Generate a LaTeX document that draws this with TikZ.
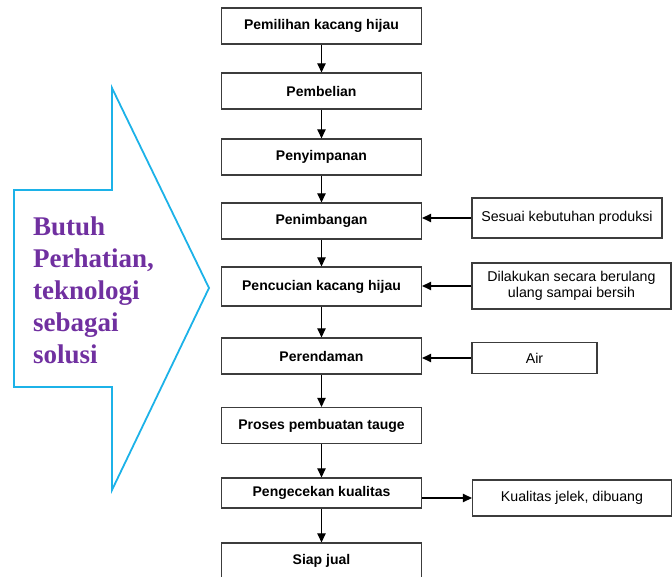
\documentclass[tikz,border=0pt]{standalone}
\usepackage{fontspec}
\setmainfont{Liberation Serif}
\setsansfont{Liberation Sans}
\usetikzlibrary{arrows.meta,positioning}
\definecolor{birumuda}{RGB}{28,178,232}
\definecolor{ungu}{RGB}{112,48,160}
\definecolor{garis}{RGB}{60,60,60}

\begin{document}
\begin{tikzpicture}[x=1pt,y=-1pt,
    langkah/.style={draw=garis,line width=1.3pt,minimum width=200pt,minimum height=36pt,inner sep=0pt,
      font=\sffamily\bfseries\fontsize{14}{16}\selectfont},
    catatan/.style={draw=garis,line width=1.3pt,inner sep=0pt,align=center,
      font=\sffamily\fontsize{14.2}{16}\selectfont},
    panah/.style={-{Triangle[length=9pt,width=8.5pt]},line width=1.1pt}]
    \useasboundingbox (0,0) rectangle (672,577);

    % Big arrow on the left
    \draw[birumuda,line width=1.8pt] (14,190) -- (112,190) -- (112,88) -- (209,288)
        -- (112,490) -- (112,387) -- (14,387) -- cycle;
    \node[ungu,anchor=north west,align=left,inner sep=0pt,
        font=\bfseries\fontsize{27}{32}\selectfont] (solusi) at (33,217)
        {Butuh\\Perhatian,\\teknologi\\sebagai\\solusi};

    % Process steps
    \node[langkah] (pilih) at (321.5,26) {Pemilihan kacang hijau};
    \node[langkah] (beli) at (321.5,91) {Pembelian};
    \node[langkah] (simpan) at (321.5,157) {Penyimpanan};
    \node[langkah] (timbang) at (321.5,221) {Penimbangan};
    \node[langkah,minimum height=39pt] (cuci) at (321.5,286.5) {Pencucian kacang hijau};
    \node[langkah] (rendam) at (321.5,356) {Perendaman};
    \node[langkah] (tauge) at (321.5,425.5) {Proses pembuatan tauge};
    \node[langkah,minimum height=30pt] (cek) at (321.5,493) {Pengecekan kualitas};
    \node[langkah] (jual) at (321.5,561) {Siap jual};

    \foreach \a/\b in {pilih/beli,beli/simpan,simpan/timbang,timbang/cuci,
        cuci/rendam,rendam/tauge,tauge/cek,cek/jual}
        \draw[panah] (\a) -- (\b);

    % Notes on the right
    \node[catatan,minimum width=190pt,minimum height=40pt] (sesuai) at (567,218)
        {Sesuai kebutuhan produksi};
    \node[catatan,minimum width=199pt,minimum height=46pt] (ulang) at (571.5,286)
        {Dilakukan secara berulang\\ulang sampai bersih};
    \node[catatan,minimum width=125pt,minimum height=31pt] (air) at (534.5,358)
        {Air};
    \node[catatan,minimum width=199pt,minimum height=36pt] (jelek) at (572,498)
        {Kualitas jelek, dibuang};

    \draw[panah] (sesuai.west) -- (sesuai.west -| timbang.east);
    \draw[panah] (ulang.west) -- (ulang.west -| cuci.east);
    \draw[panah] (air.west) -- (air.west -| rendam.east);
    \draw[panah] (cek.east |- jelek.west) -- (jelek.west);
\end{tikzpicture}
\end{document}
